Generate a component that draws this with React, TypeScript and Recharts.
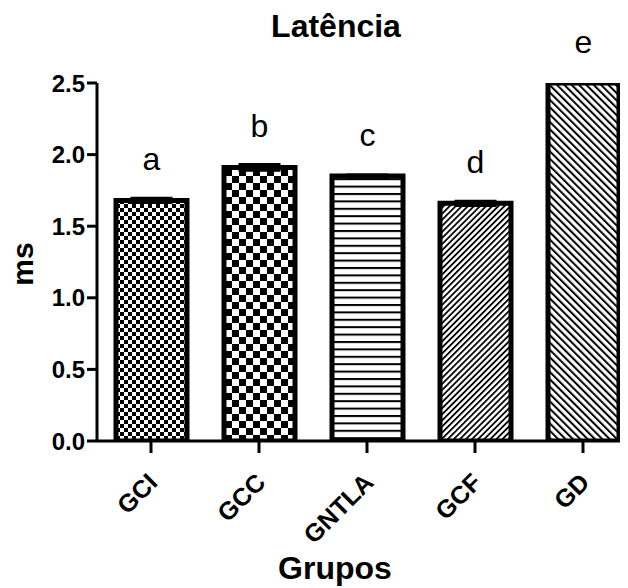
import React from 'react';
import { BarChart, Bar, XAxis, YAxis, Cell, ErrorBar, LabelList } from 'recharts';

const categories = ['GCI', 'GCC', 'GNTLA', 'GCF', 'GD'];
const means = [1.68, 1.91, 1.85, 1.66, 2.5];
const sems = [0.015, 0.02, 0.008, 0.015, 0];
const letters = ['a', 'b', 'c', 'd', 'e'];
const yTicks = [0, 0.5, 1.0, 1.5, 2.0, 2.5];
const patternIds = ['pGCI', 'pGCC', 'pGNTLA', 'pGCF', 'pGD'];

const data = categories.map((c, i) => ({
  name: c,
  mean: means[i],
  err: sems[i],
  letter: letters[i],
}));

const FONT = 'Arial, "Liberation Sans", Helvetica, sans-serif';

const XTick = (props: any) => {
  const { x, y, payload } = props;
  const px = x + 8;
  const py = y + 29;
  return (
    <text
      x={px}
      y={py}
      transform={`rotate(-45 ${px} ${py})`}
      textAnchor="end"
      fontSize={25}
      fontWeight="bold"
      fontFamily={FONT}
      fill="#000"
    >
      {payload.value}
    </text>
  );
};

export default function App() {
  return (
    <div style={{ position: 'relative', width: 620, height: 580, overflow: 'hidden' }}>
      <BarChart
        width={632}
        height={572}
        data={data}
        margin={{ top: 75, right: 3, bottom: 0, left: 0 }}
        barSize={71}
      >
        <defs>
          <pattern id="pGCI" patternUnits="userSpaceOnUse" width={8} height={8}>
            <rect x={0} y={0} width={8} height={8} fill="#fff" />
            <rect x={0} y={0} width={4} height={4} fill="#000" />
            <rect x={4} y={4} width={4} height={4} fill="#000" />
          </pattern>
          <pattern id="pGCC" patternUnits="userSpaceOnUse" width={14} height={14}>
            <rect x={0} y={0} width={14} height={14} fill="#fff" />
            <rect x={0} y={0} width={7} height={7} fill="#000" />
            <rect x={7} y={7} width={7} height={7} fill="#000" />
          </pattern>
          <pattern id="pGNTLA" patternUnits="userSpaceOnUse" width={8} height={7.4}>
            <rect x={0} y={0} width={8} height={7.4} fill="#fff" />
            <rect x={0} y={0} width={8} height={2} fill="#000" />
          </pattern>
          <pattern id="pGCF" patternUnits="userSpaceOnUse" width={4.3} height={8} patternTransform="rotate(45)">
            <rect x={0} y={0} width={4.3} height={8} fill="#fff" />
            <rect x={0} y={0} width={1.8} height={8} fill="#000" />
          </pattern>
          <pattern id="pGD" patternUnits="userSpaceOnUse" width={5.2} height={8} patternTransform="rotate(-45)">
            <rect x={0} y={0} width={5.2} height={8} fill="#fff" />
            <rect x={0} y={0} width={2} height={8} fill="#000" />
          </pattern>
        </defs>
        <XAxis
          dataKey="name"
          height={139}
          tick={<XTick />}
          tickSize={12}
          axisLine={{ stroke: '#000', strokeWidth: 3 }}
          tickLine={{ stroke: '#000', strokeWidth: 3 }}
          interval={0}
        />
        <YAxis
          width={89}
          domain={[0, 2.5]}
          ticks={yTicks}
          allowDataOverflow
          tickFormatter={(v: number) => v.toFixed(1)}
          tickSize={10}
          axisLine={{ stroke: '#000', strokeWidth: 3 }}
          tickLine={{ stroke: '#000', strokeWidth: 3 }}
          tick={{ fontSize: 24, fontWeight: 'bold', fontFamily: FONT, fill: '#000' }}
        />
        <Bar dataKey="mean" stroke="#000" strokeWidth={5} isAnimationActive={false}>
          {data.map((d, i) => (
            <Cell key={d.name} fill={`url(#${patternIds[i]})`} />
          ))}
          <ErrorBar dataKey="err" width={21} stroke="#000" strokeWidth={3} direction="y" />
          <LabelList
            dataKey="letter"
            position="top"
            offset={30}
            fontSize={32}
            fontFamily={FONT}
            fill="#000"
          />
        </Bar>
      </BarChart>
      <svg
        width={620}
        height={580}
        style={{ position: 'absolute', left: 0, top: 0, pointerEvents: 'none' }}
      >
        <text x={328} y={29} textAnchor="middle" fontSize={32} fontWeight="bold" fontFamily={FONT} fill="#000">
          Latência
        </text>
        <text x={327} y={571} textAnchor="middle" fontSize={32} fontWeight="bold" fontFamily={FONT} fill="#000">
          Grupos
        </text>
        <text
          x={25}
          y={256}
          transform="rotate(-90 25 256)"
          textAnchor="middle"
          fontSize={30}
          fontWeight="bold"
          fontFamily={FONT}
          fill="#000"
        >
          ms
        </text>
      </svg>
    </div>
  );
}
